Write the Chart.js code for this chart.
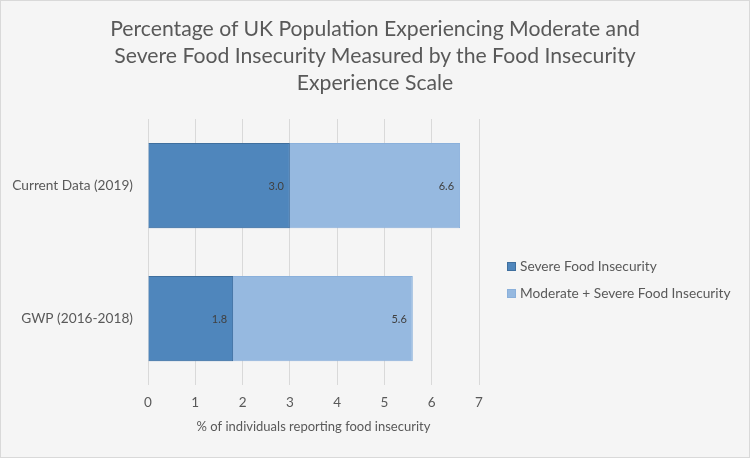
<!DOCTYPE html>
<html>
<head>
<meta charset="utf-8">
<script src="https://cdn.jsdelivr.net/npm/chart.js@4.4.1/dist/chart.umd.min.js"></script>
<style>
  body { margin: 0; background: #fff; }
  #wrap { position: relative; width: 750px; height: 458px; box-sizing: border-box; border: 1px solid #d9d9d9; background: #f5f5f5; }
  #c { position: absolute; left: 0; top: 0; }
  #title { position: absolute; left: 0; top: 14px; width: 748px; text-align: center; font-family: Lato, "Open Sans", sans-serif; font-size: 21.2px; line-height: 27px; color: #595959; }
  #legend { position: absolute; left: 506px; top: 256px; font-family: Lato, "Open Sans", sans-serif; font-size: 13.7px; color: #595959; }
  #legend div { height: 27px; line-height: 18px; white-space: nowrap; }
  #legend span { display: inline-block; width: 9px; height: 9px; margin-right: 4px; vertical-align: 0px; box-sizing: border-box; }
</style>
</head>
<body>
<div id="wrap">
  <canvas id="c" width="748" height="456"></canvas>
  <div id="title"></div>
  <div id="legend"></div>
</div>
<script>
// 資料
const titleLines = ['Percentage of UK Population Experiencing Moderate and', 'Severe Food Insecurity Measured by the Food Insecurity', 'Experience Scale'];
const categories = ['Current Data (2019)', 'GWP (2016-2018)'];
const severe = [3.0, 1.8];
const moderateSevere = [6.6, 5.6];
const seriesNames = ['Severe Food Insecurity', 'Moderate + Severe Food Insecurity'];
const xTicks = [0, 1, 2, 3, 4, 5, 6, 7];

const FONT = 'Lato, "Open Sans", sans-serif';
const COLORS = ['#4F86BC', '#96B9E0'];
const BORDERS = ['#3F6F9E', '#8AB0DB'];

// 數值標籤 plugin（柱內右側）
const valueLabels = {
  id: 'valueLabels',
  afterDatasetsDraw(chart) {
    const ctx = chart.ctx;
    ctx.save();
    ctx.font = '11px ' + FONT;
    ctx.fillStyle = '#404040';
    ctx.textAlign = 'right';
    ctx.textBaseline = 'middle';
    chart.data.datasets.forEach((ds, i) => {
      chart.getDatasetMeta(i).data.forEach((el, j) => {
        ctx.fillText(ds.data[j].toFixed(1), el.x - 6, el.y + 1);
      });
    });
    ctx.restore();
  }
};

new Chart(document.getElementById('c'), {
  type: 'bar',
  data: {
    labels: categories,
    datasets: [
      { label: seriesNames[0], data: severe, backgroundColor: COLORS[0], borderColor: BORDERS[0], borderWidth: 1 },
      { label: seriesNames[1], data: moderateSevere, backgroundColor: COLORS[1], borderColor: BORDERS[1], borderWidth: 1 }
    ]
  },
  options: {
    indexAxis: 'y',
    responsive: false,
    animation: false,
    grouped: false,
    categoryPercentage: 0.64,
    barPercentage: 1,
    layout: { padding: { left: 0, right: 270, top: 118, bottom: 22 } },
    plugins: {
      legend: { display: false },
      tooltip: { enabled: false },
      title: { display: false }
    },
    scales: {
      x: {
        min: 0, max: 7,
        afterBuildTicks: (s) => { s.ticks = xTicks.map(v => ({ value: v })); },
        grid: { color: '#d9d9d9', drawTicks: false },
        border: { display: false },
        ticks: { font: { family: FONT, size: 13.5 }, color: '#595959', padding: 9 },
        title: { display: true, text: '% of individuals reporting food insecurity', color: '#595959', font: { family: FONT, size: 13 }, padding: { top: 0, bottom: 0 } }
      },
      y: {
        afterFit: (s) => { s.width = 147; },
        grid: { display: false },
        border: { display: false },
        ticks: { font: { family: FONT, size: 13.7 }, color: '#595959', padding: 7 }
      }
    }
  },
  plugins: [valueLabels]
});

document.getElementById('title').innerHTML = titleLines.join('<br>');

// HTML 圖例
document.getElementById('legend').innerHTML = seriesNames.map((n, i) =>
  `<div><span style="background:${COLORS[i]};border:1px solid ${BORDERS[i]}"></span>${n}</div>`
).join('');
</script>
</body>
</html>
